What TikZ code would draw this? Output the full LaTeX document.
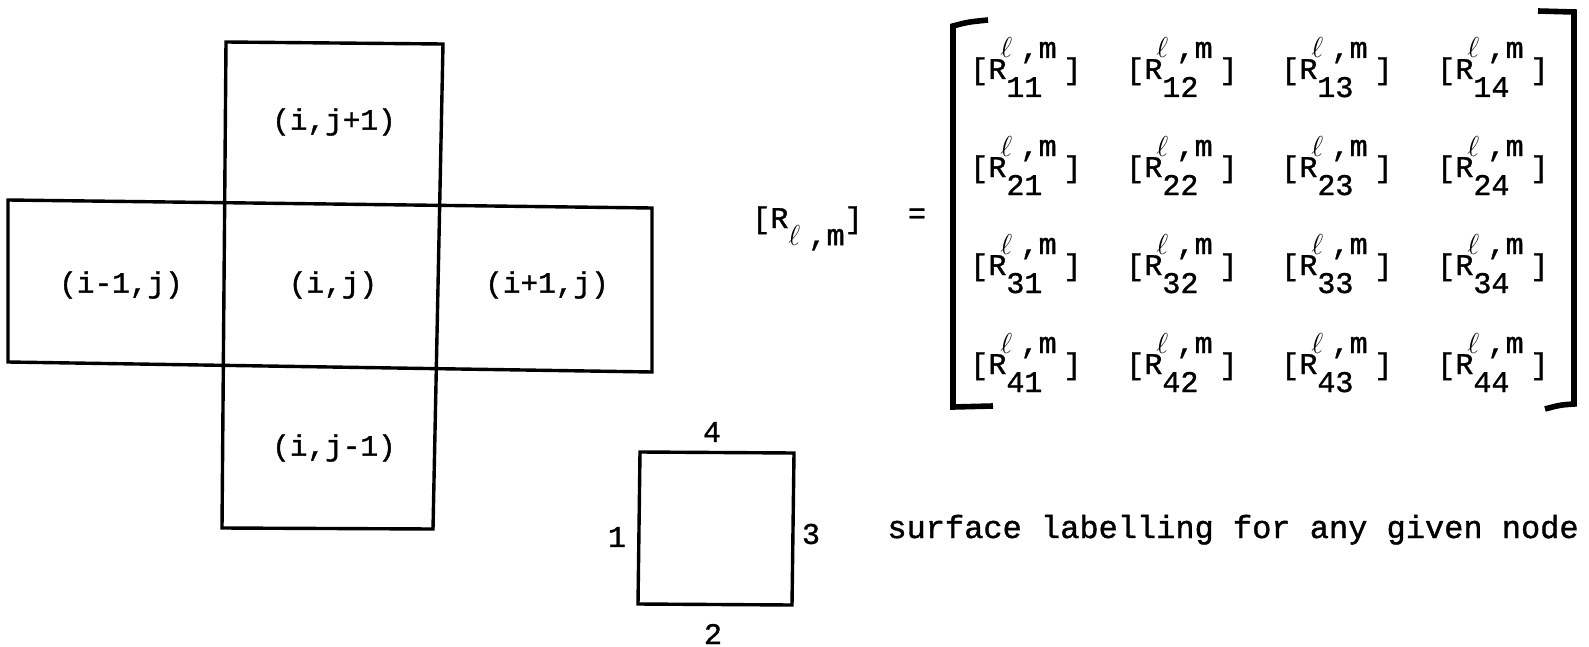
\documentclass[tikz,border=0pt]{standalone}
\usepackage{fontspec}
\newfontfamily\tw[FakeBold=1.2]{Liberation Mono}
\newcommand\rent[1]{[R\rlap{\raisebox{0.7em}{\hspace{-0.2em}$\ell$\hspace{0.28em},m}}\raisebox{-0.6em}{#1}\hspace{0.7em}]}
\begin{document}
\begin{tikzpicture}[x=0.5pt,y=-0.5pt,
  edge/.style={line width=1.7pt, line join=miter},
  brk/.style={line width=2.8pt, line join=miter},
  lbl/.style={inner sep=0pt, font=\tw\fontsize{14.7}{16}\selectfont},
  ent/.style={inner sep=0pt, anchor=base west, font=\tw\fontsize{15}{18}\selectfont},
  captext/.style={inner sep=0pt, anchor=base west, font=\tw\fontsize{16}{19}\selectfont},
  num/.style={inner sep=0pt, font=\tw\fontsize{15}{18}\selectfont}]
\useasboundingbox (0,0) rectangle (1589,647);
% cross of cells
\coordinate (tA) at (226,42);
\coordinate (tB) at (443,44);
\coordinate (bA) at (222,528);
\coordinate (bB) at (433,529);
\coordinate (lT) at (8,200);
\coordinate (rT) at (652,208);
\coordinate (rB) at (652,372);
\coordinate (lB) at (8,362);
\draw[edge] (tA) -- (tB) -- (bB) -- (bA) -- cycle;
\draw[edge] (lT) -- (rT) -- (rB) -- (lB) -- cycle;
\node[lbl] (top) at (334,122) {(i,j+1)};
\node[lbl] (left) at (121,285) {(i-1,j)};
\node[lbl] (mid) at (333,285) {(i,j)};
\node[lbl] (right) at (547,285) {(i+1,j)};
\node[lbl] (bot) at (334,448) {(i,j-1)};
% surface labelling square
\coordinate (q1) at (640,452);
\coordinate (q2) at (794,453);
\coordinate (q3) at (792,605);
\coordinate (q4) at (638,604);
\draw[edge] (q1) -- (q2) -- (q3) -- (q4) -- cycle;
\node[num] (s4) at (712,432) {4};
\node[num] (s1) at (617,537) {1};
\node[num] (s3) at (811,534) {3};
\node[num] (s2) at (713,634) {2};
\node[captext] (caption) at (887,538) {surface labelling for any given node};
% matrix
\node[ent] (lhs) at (752,228) {[R\raisebox{-0.57em}{$\ell$\hspace{0.28em},m}]};
\node[num] (eq) at (917,216) {=};
\draw[brk] (988,20) .. controls (968,22) .. (953,26) -- (953,407) -- (993,406);
\draw[brk] (1538,11) -- (1574,12) -- (1574,404) .. controls (1560,405) .. (1545,409);
\foreach \r/\y in {1/79,2/177,3/275,4/374}
  \foreach \c/\x in {1/970,2/1126,3/1281,4/1437}
    \node[ent] (e\r\c) at (\x,\y) {\rent{\r\c}};
\end{tikzpicture}
\end{document}
